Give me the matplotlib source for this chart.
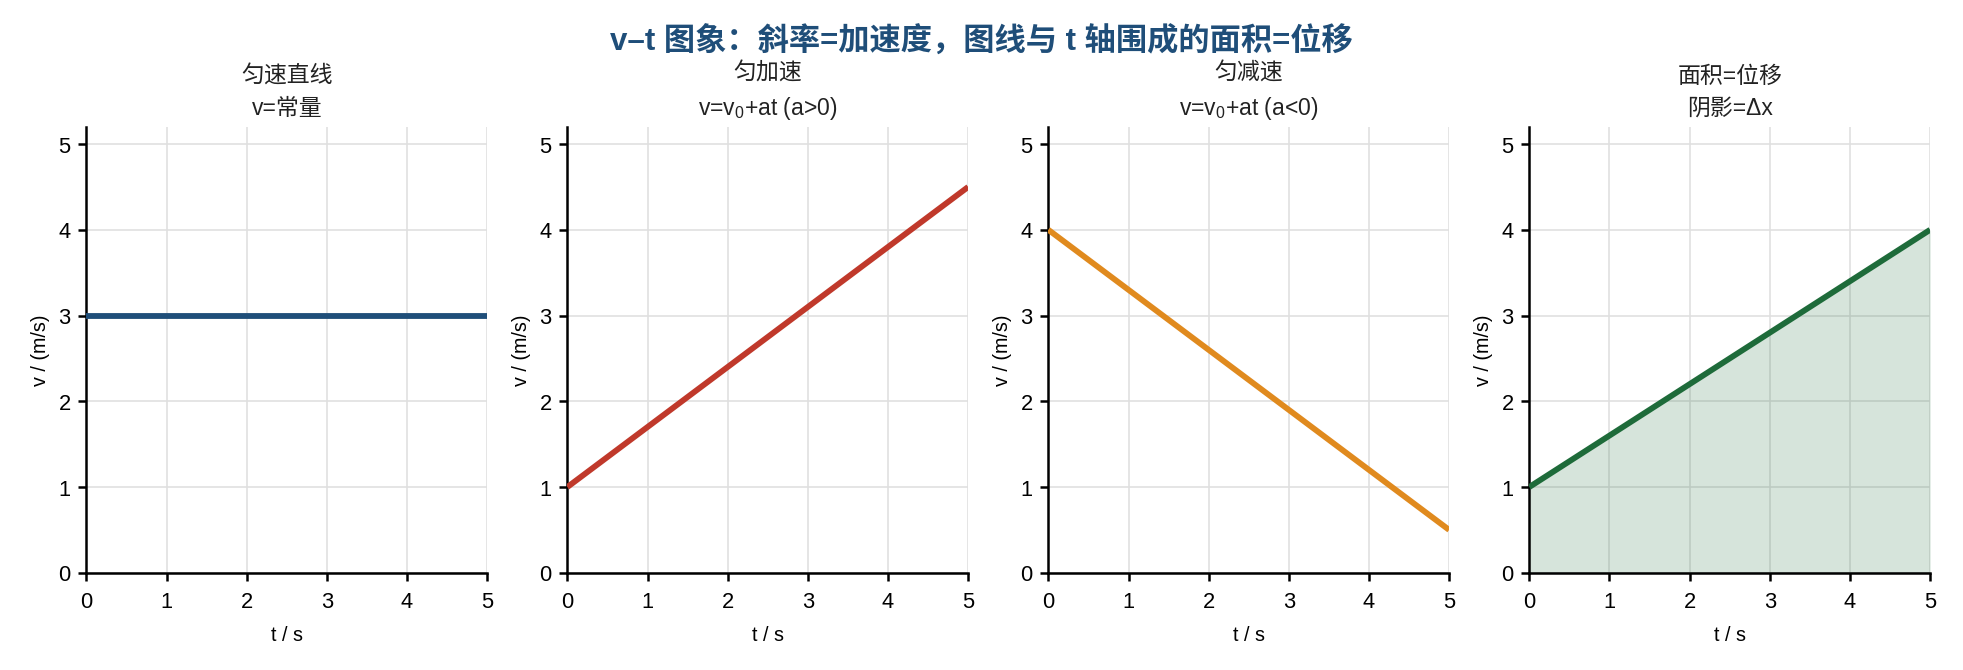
import matplotlib
matplotlib.use("Agg")
import matplotlib.pyplot as plt
import numpy as np

plt.rcParams['font.family'] = ['Liberation Sans', 'Noto Sans CJK SC', 'DejaVu Sans']
plt.rcParams['axes.unicode_minus'] = False
plt.rcParams['mathtext.fontset'] = 'custom'
plt.rcParams['mathtext.rm'] = 'Liberation Sans'
plt.rcParams['mathtext.it'] = 'Liberation Sans'

t_values = [0, 5]
v_uniform = [3, 3]
v_accel = [1, 4.5]
v_decel = [4, 0.5]
v_area = [1, 4]

titles = ["匀速直线\nv=常量", "匀加速\nv=v$_0$+at (a>0)", "匀减速\nv=v$_0$+at (a<0)", "面积=位移\n阴影=Δx"]
colors = ["#1f4e79", "#c0392b", "#e08a1e", "#1e6b3a"]
series = [v_uniform, v_accel, v_decel, v_area]
xticks = [0, 1, 2, 3, 4, 5]
yticks = [0, 1, 2, 3, 4, 5]

fig, axes = plt.subplots(1, 4, figsize=(13.09, 4.47), dpi=150)
fig.subplots_adjust(left=0.044, right=0.983, top=0.81, bottom=0.145, wspace=0.2)

for i, ax in enumerate(axes):
    ax.plot(t_values, series[i], color=colors[i], lw=2.8, solid_capstyle='butt', zorder=3)
    if i == 3:
        ax.fill_between(t_values, series[i], 0, color=colors[i], alpha=0.18, lw=0, zorder=2)
    ax.set_xlim(0, 5)
    ax.set_ylim(0, 5.2)
    ax.set_xticks(xticks)
    ax.set_yticks(yticks)
    ax.grid(True, color='#e0e0e0', lw=0.8)
    ax.set_axisbelow(True)
    for s in ['top', 'right']:
        ax.spines[s].set_visible(False)
    ax.spines['left'].set_linewidth(1.2)
    ax.spines['bottom'].set_linewidth(1.2)
    ax.tick_params(labelsize=10.5, width=1.2, length=4)
    ax.tick_params(axis='x', pad=5)
    ax.set_xlabel("t / s", fontsize=9.5, labelpad=6)
    ax.set_ylabel("v / (m/s)", fontsize=9.5)
    ax.set_title(titles[i], fontsize=11, color='#222222', pad=6, linespacing=1.5)

fig.suptitle("v–t 图象：斜率=加速度，图线与 t 轴围成的面积=位移", fontsize=15,
             fontweight='bold', color='#1f4e79', y=0.96)

fig.savefig("out.png", dpi=150)
